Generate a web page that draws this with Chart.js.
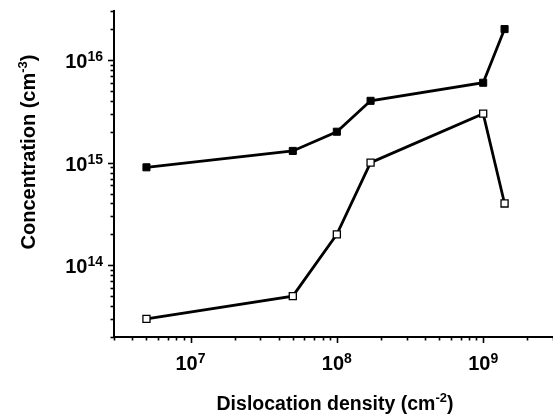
<!DOCTYPE html>
<html>
<head>
<meta charset="utf-8">
<script src="https://cdn.jsdelivr.net/npm/chart.js@4.4.0/dist/chart.umd.min.js"></script>
<style>
	html, body { margin: 0; padding: 0; background: #fff; }
	#wrap { width: 553px; height: 417px; }
</style>
</head>
<body>
<div id="wrap"><canvas id="concChart" width="553" height="417"></canvas></div>
<script>
// dislocation density (cm^-2)
const densities = [5e6, 5e7, 1e8, 1.7e8, 1e9, 1.4e9];
// concentrations (cm^-3)
const filledSeries = [9e14, 1.3e15, 2e15, 4e15, 6e15, 2e16];
const openSeries = [3e13, 5e13, 2e14, 1e15, 3e15, 4e14];

const xTickExps = [7, 8, 9];
const yTickExps = [14, 15, 16];
const xTitle = ['Dislocation density (cm', '-2', ')'];
const yTitle = ['Concentration (cm', '-3', ')'];

const FONT = '"Liberation Sans", Arial, sans-serif';

function toPoints(xs, ys) {
	let pts = [];
	for (let i = 0; i < xs.length; i++) pts.push({ x: xs[i], y: ys[i] });
	return pts;
}

// text with a raised part in the middle: [before, sup, after]
function drawSup(ctx, parts, x, y, size, supSize, rise, align) {
	ctx.font = 'bold ' + size + 'px ' + FONT;
	let w0 = ctx.measureText(parts[0]).width;
	let w2 = parts[2] ? ctx.measureText(parts[2]).width : 0;
	ctx.font = 'bold ' + supSize + 'px ' + FONT;
	let w1 = ctx.measureText(parts[1]).width;
	let total = w0 + w1 + w2;
	let sx = x;
	if (align === 'center') sx = x - total / 2;
	if (align === 'right') sx = x - total;
	ctx.textAlign = 'left';
	ctx.textBaseline = 'alphabetic';
	ctx.font = 'bold ' + size + 'px ' + FONT;
	ctx.fillText(parts[0], sx, y);
	ctx.font = 'bold ' + supSize + 'px ' + FONT;
	ctx.fillText(parts[1], sx + w0, y - rise);
	if (parts[2]) {
		ctx.font = 'bold ' + size + 'px ' + FONT;
		ctx.fillText(parts[2], sx + w0 + w1, y);
	}
}

const axisDecor = {
	id: 'axisDecor',
	afterDraw(chart) {
		const ctx = chart.ctx;
		const xs = chart.scales.x, ys = chart.scales.y;
		const area = chart.chartArea;
		ctx.save();
		ctx.strokeStyle = '#000';
		ctx.fillStyle = '#000';
		ctx.lineWidth = 1.6;

		// tick marks, outward, minor ones shorter
		for (let d = 6; d <= 9; d++) {
			for (let m = 1; m <= 9; m++) {
				let v = m * Math.pow(10, d);
				if (v < xs.min || v > xs.max) continue;
				let px = Math.round(xs.getPixelForValue(v)) + 0.5;
				let len = m === 1 ? 6 : 3.5;
				ctx.beginPath();
				ctx.moveTo(px, area.bottom);
				ctx.lineTo(px, area.bottom + len);
				ctx.stroke();
			}
		}
		for (let d = 13; d <= 16; d++) {
			for (let m = 1; m <= 9; m++) {
				let v = m * Math.pow(10, d);
				if (v < ys.min || v > ys.max) continue;
				let py = Math.round(ys.getPixelForValue(v)) + 0.5;
				let len = m === 1 ? 6 : 3.5;
				ctx.beginPath();
				ctx.moveTo(area.left, py);
				ctx.lineTo(area.left - len, py);
				ctx.stroke();
			}
		}

		// tick labels
		xTickExps.forEach(function(e) {
			let px = xs.getPixelForValue(Math.pow(10, e));
			drawSup(ctx, ['10', String(e), ''], px, area.bottom + 33, 20, 14, 7, 'center');
		});
		yTickExps.forEach(function(e) {
			let py = ys.getPixelForValue(Math.pow(10, e));
			drawSup(ctx, ['10', String(e), ''], area.left - 11, py + 8, 20, 14, 7, 'right');
		});

		// axis titles
		drawSup(ctx, xTitle, 335, 410, 19.5, 13, 8, 'center');
		ctx.translate(35, 152);
		ctx.rotate(-Math.PI / 2);
		drawSup(ctx, yTitle, 0, 0, 20, 13, 8, 'center');
		ctx.restore();
	}
};

window.onload = function() {
	var ctx = document.getElementById("concChart").getContext("2d");
	var concChart = new Chart(ctx, {
		type: 'scatter',
		data: {
			datasets: [
				{
					label: 'filled',
					data: toPoints(densities, filledSeries),
					showLine: true,
					borderColor: '#000',
					borderWidth: 2.8,
					pointStyle: 'rect',
					pointRadius: 5,
					pointBackgroundColor: '#000',
					pointBorderColor: '#000',
					pointBorderWidth: 1
				},
				{
					label: 'open',
					data: toPoints(densities, openSeries),
					showLine: true,
					borderColor: '#000',
					borderWidth: 2.8,
					pointStyle: 'rect',
					pointRadius: 5,
					pointBackgroundColor: '#fff',
					pointBorderColor: '#000',
					pointBorderWidth: 1.3
				}
			]
		},
		options: {
			responsive: false,
			animation: false,
			layout: {
				autoPadding: false,
				padding: { left: 114, top: 11, right: 0, bottom: 80 }
			},
			plugins: {
				legend: { display: false },
				tooltip: { enabled: false }
			},
			scales: {
				x: {
					type: 'logarithmic',
					min: 3e6,
					max: 3e9,
					grid: { display: false, drawTicks: false },
					border: { display: true, color: '#000', width: 2 },
					ticks: { display: false }
				},
				y: {
					type: 'logarithmic',
					min: 2e13,
					max: 3e16,
					grid: { display: false, drawTicks: false },
					border: { display: true, color: '#000', width: 2 },
					ticks: { display: false }
				}
			}
		},
		plugins: [axisDecor]
	});
};
</script>
</body>
</html>
